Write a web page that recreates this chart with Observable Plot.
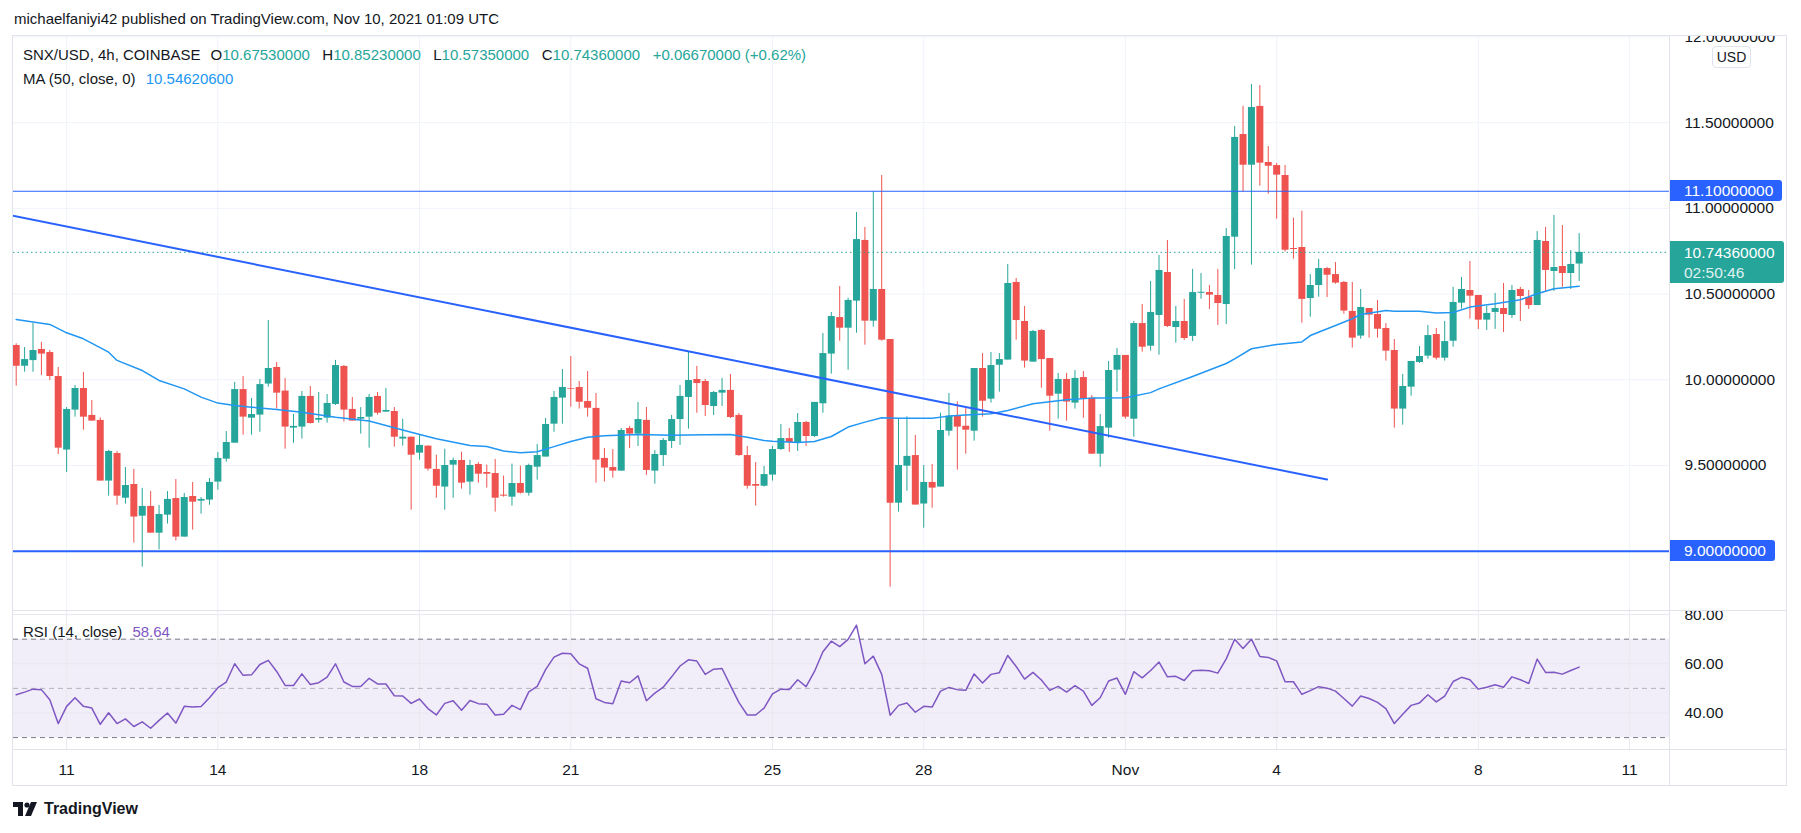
<!DOCTYPE html>
<html><head><meta charset="utf-8">
<script src="https://cdn.jsdelivr.net/npm/d3@7"></script>
<script src="https://cdn.jsdelivr.net/npm/@observablehq/plot@0.6"></script>
<style>
body{margin:0;background:#fff;font-family:"Liberation Sans",Arial,sans-serif;color:#131722;}
#root{position:relative;width:1801px;height:833px;overflow:hidden;background:#fff;}
.abs{position:absolute;white-space:nowrap;}
.line{position:absolute;background:#e0e3eb;}
.lbl{position:absolute;left:1670px;color:#fff;font-size:15.5px;padding:0 9px 0 14px;border-radius:0 3px 3px 0;display:flex;flex-direction:column;justify-content:center;}
.leg span.g{margin-left:12.5px;}
.leg span.g:first-child{margin-left:10px;}
</style></head><body><div id="root"></div>
<script>
// ---------- data ----------
const openP = [10.200,10.079,10.112,10.177,10.159,10.019,9.590,9.823,9.949,9.792,9.763,9.409,9.570,9.309,9.389,9.204,9.261,9.105,9.210,9.307,9.082,9.319,9.292,9.298,9.403,9.537,9.630,9.943,9.776,9.794,9.975,10.072,9.934,9.718,9.724,9.903,9.764,9.776,9.856,10.078,9.827,9.770,9.782,9.903,9.811,9.815,9.654,9.665,9.572,9.613,9.477,9.374,9.502,9.529,9.403,9.506,9.459,9.453,9.327,9.315,9.395,9.338,9.490,9.549,9.741,9.893,9.949,9.955,9.873,9.833,9.541,9.488,9.467,9.716,9.683,9.763,9.467,9.558,9.640,9.768,9.897,10.002,9.990,9.844,9.922,9.938,9.792,9.558,9.389,9.379,9.444,9.593,9.657,9.630,9.751,9.669,9.860,10.150,10.363,10.301,10.459,10.813,10.342,10.527,10.235,9.280,9.496,9.558,9.275,9.401,9.374,9.700,9.788,9.729,9.700,10.066,9.887,10.085,10.115,10.568,10.340,10.103,10.288,10.124,9.916,10.002,9.864,10.013,9.893,9.566,9.718,10.056,10.142,9.770,10.328,10.196,10.375,10.626,10.305,10.340,10.253,10.505,10.509,10.492,10.439,10.832,11.431,11.252,11.595,11.268,11.250,11.192,10.766,10.772,10.474,10.550,10.649,10.614,10.568,10.399,10.255,10.416,10.381,10.299,10.171,9.829,9.957,10.101,10.138,10.264,10.126,10.225,10.447,10.521,10.492,10.348,10.393,10.416,10.375,10.527,10.480,10.433,10.807,10.632,10.661,10.620,10.6753];
const highP = [10.210,10.188,10.328,10.218,10.171,10.072,9.838,9.967,10.043,9.879,9.778,9.588,9.582,9.488,9.477,9.366,9.348,9.267,9.348,9.418,9.337,9.401,9.313,9.424,9.576,9.698,9.984,10.019,9.891,10.002,10.346,10.101,10.008,9.798,9.932,9.961,9.926,9.914,10.113,10.083,9.897,9.838,9.914,9.926,9.949,9.838,9.770,9.665,9.677,9.613,9.560,9.595,9.543,9.578,9.531,9.517,9.502,9.535,9.438,9.508,9.496,9.508,9.623,9.774,9.932,10.060,10.136,9.990,10.048,9.920,9.599,9.593,9.716,9.728,9.868,9.838,9.587,9.657,9.792,9.967,10.159,10.078,10.002,9.932,10.008,10.031,9.803,9.611,9.517,9.494,9.611,9.739,9.716,9.803,9.757,9.868,10.270,10.393,10.544,10.476,10.976,10.889,11.097,11.192,10.235,9.770,9.784,9.675,9.500,9.506,9.805,9.920,9.871,9.840,10.066,10.153,10.159,10.153,10.673,10.591,10.428,10.288,10.293,10.124,10.037,10.037,10.054,10.048,9.908,9.797,10.107,10.183,10.142,10.340,10.439,10.574,10.725,10.813,10.428,10.469,10.644,10.620,10.550,10.644,10.883,11.478,11.596,11.723,11.717,11.361,11.262,11.250,10.943,10.984,10.614,10.702,10.655,10.684,10.574,10.568,10.527,10.416,10.463,10.328,10.235,10.031,10.107,10.194,10.317,10.299,10.340,10.539,10.597,10.690,10.492,10.428,10.504,10.562,10.550,10.539,10.521,10.865,10.889,10.959,10.900,10.754,10.8523];
const lowP = [9.963,10.044,10.044,10.025,9.996,9.564,9.459,9.782,9.706,9.759,9.409,9.321,9.268,9.274,9.047,8.907,9.105,9.008,9.158,9.059,9.082,9.123,9.216,9.268,9.356,9.519,9.630,9.677,9.677,9.694,9.957,9.829,9.595,9.630,9.654,9.741,9.747,9.747,9.850,9.753,9.759,9.683,9.601,9.794,9.811,9.607,9.613,9.239,9.531,9.467,9.309,9.239,9.309,9.362,9.327,9.397,9.368,9.228,9.315,9.263,9.333,9.321,9.414,9.549,9.694,9.741,9.840,9.829,9.782,9.397,9.403,9.426,9.467,9.599,9.611,9.442,9.391,9.494,9.599,9.617,9.712,9.805,9.786,9.792,9.844,9.774,9.553,9.362,9.263,9.374,9.409,9.587,9.576,9.582,9.611,9.663,9.805,10.033,10.225,10.056,10.272,10.202,10.307,10.225,8.790,9.228,9.350,9.269,9.134,9.251,9.374,9.671,9.473,9.566,9.642,9.782,9.864,9.928,10.115,10.231,10.068,10.103,9.951,9.700,9.770,9.759,9.829,9.776,9.566,9.490,9.659,9.928,9.770,9.665,10.161,10.167,10.144,10.305,10.214,10.229,10.223,10.470,10.410,10.317,10.323,10.643,11.095,10.669,11.130,11.083,10.937,10.745,10.704,10.330,10.365,10.482,10.480,10.558,10.383,10.185,10.237,10.243,10.243,10.109,9.718,9.735,9.904,10.095,10.120,10.115,10.109,10.190,10.412,10.354,10.294,10.288,10.294,10.276,10.358,10.340,10.410,10.433,10.509,10.515,10.540,10.527,10.5735];
const closeP = [10.079,10.118,10.171,10.150,10.019,9.601,9.827,9.949,9.782,9.759,9.409,9.582,9.321,9.383,9.199,9.261,9.105,9.214,9.302,9.082,9.313,9.286,9.302,9.401,9.541,9.634,9.943,9.782,9.797,9.972,10.066,9.922,9.724,9.728,9.903,9.745,9.774,9.862,10.083,9.823,9.759,9.780,9.897,9.805,9.821,9.665,9.665,9.560,9.617,9.479,9.379,9.500,9.529,9.397,9.500,9.449,9.449,9.309,9.321,9.395,9.338,9.500,9.558,9.739,9.897,9.955,9.945,9.869,9.834,9.531,9.485,9.467,9.704,9.683,9.768,9.471,9.564,9.646,9.768,9.903,9.996,9.978,9.850,9.926,9.938,9.780,9.558,9.379,9.379,9.447,9.593,9.657,9.634,9.751,9.669,9.868,10.153,10.369,10.301,10.463,10.818,10.342,10.527,10.231,9.280,9.500,9.553,9.269,9.401,9.368,9.704,9.788,9.724,9.706,10.066,9.875,10.083,10.118,10.562,10.346,10.109,10.282,10.118,9.904,10.002,9.870,10.008,9.887,9.566,9.727,10.054,10.142,9.782,10.328,10.190,10.393,10.638,10.311,10.340,10.241,10.509,10.511,10.494,10.445,10.836,11.414,11.252,11.589,11.264,11.246,11.194,10.756,10.760,10.469,10.550,10.649,10.610,10.564,10.401,10.243,10.422,10.377,10.295,10.167,9.829,9.961,10.107,10.136,10.258,10.126,10.223,10.451,10.527,10.488,10.348,10.387,10.416,10.381,10.521,10.486,10.433,10.813,10.638,10.655,10.620,10.673,10.7436];
// MA(50, close) at these candle indices
const maIdx = [0,4,6,8,11,12,15,17,20,22,24,26,28,31,34,38,42,44,47,50,54,56,58,60,62,64,66,68,70,74,78,82,85,87,89,90,93,95,97,99,101,103,105,109,111,113,116,118,121,125,128,132,135,136,140,144,145,147,150,153,154,157,159,160,163,164,167,169,171,173,176,179,181,183,186];
const maVal = [10.352,10.323,10.274,10.239,10.161,10.113,10.054,9.996,9.947,9.899,9.864,9.850,9.840,9.827,9.811,9.782,9.759,9.733,9.694,9.656,9.617,9.611,9.584,9.574,9.580,9.610,9.640,9.665,9.673,9.681,9.677,9.679,9.681,9.665,9.646,9.642,9.634,9.640,9.669,9.724,9.753,9.778,9.776,9.776,9.788,9.794,9.802,9.821,9.860,9.883,9.893,9.895,9.925,9.947,10.019,10.095,10.122,10.181,10.206,10.221,10.258,10.317,10.356,10.381,10.404,10.400,10.400,10.389,10.393,10.424,10.443,10.467,10.502,10.531,10.546];
// RSI(14, close), one value per candle
const rsiVal = [47.4,48.5,49.7,49.5,45.4,35.7,42.7,46.2,42.7,42.0,35.4,40.1,35.7,37.6,34.5,36.4,33.8,37.0,40.0,35.9,42.7,42.4,42.6,46.2,50.3,52.6,60.0,55.3,55.5,59.7,61.4,56.9,51.2,51.2,55.9,51.6,52.3,54.6,60.0,52.6,50.8,50.8,54.1,51.8,51.8,47.0,46.9,43.9,45.7,41.8,39.2,43.9,45.0,41.1,45.1,43.8,43.6,39.2,39.5,43.1,41.4,48.6,50.8,57.6,62.7,64.3,64.1,60.0,58.2,45.8,44.3,43.8,53.0,52.3,55.1,45.0,48.1,50.5,54.7,59.1,61.6,61.1,55.7,57.8,58.1,51.1,44.3,39.2,39.2,42.0,47.8,49.7,49.6,53.5,50.7,56.9,64.9,69.2,67.0,69.9,75.7,60.0,63.1,55.7,39.1,43.1,44.1,40.3,42.7,42.4,48.9,50.4,49.5,49.2,55.9,52.2,55.7,56.4,63.4,58.9,53.8,56.5,53.4,49.2,50.8,48.5,51.1,48.9,43.1,46.2,53.0,54.2,47.6,56.8,54.3,57.3,60.7,54.7,54.9,53.2,57.2,57.4,57.2,56.2,62.0,70.0,66.2,70.0,63.0,62.6,61.2,52.7,52.7,47.6,49.1,50.7,50.1,48.9,45.9,42.8,46.9,45.9,44.3,41.8,35.7,39.5,43.1,44.1,47.4,44.5,46.9,52.8,54.5,53.5,49.7,50.5,51.5,50.5,54.7,53.5,52.0,61.9,56.5,56.6,55.8,57.3,58.64];
// drawings
const trendIdx = [-1, 156];
const trendVal = [10.963, 9.418];
const hLevels = [11.1, 9.0];
const lastPrice = 10.7436;
const priceTicks = [9.5, 10, 10.5, 11, 11.5, 12];
const rsiTicks = [40, 60, 80];
const tickDates = ["2021-10-11","2021-10-14","2021-10-18","2021-10-21","2021-10-25","2021-10-28","2021-11-01","2021-11-04","2021-11-08","2021-11-11"];
const tickLabels = ["11","14","18","21","25","28","Nov","4","8","11"];

// ---------- build ----------
const GREEN = "#26a69a", RED = "#ef5350", BLUE = "#2962ff", MA = "#2196f3", PURPLE = "#7e57c2";
const H4 = 4 * 3600 * 1000, T0 = Date.UTC(2021, 9, 10);
const T = i => new Date(T0 + i * H4);
const W = 1801, XL = 13, XR = 1669;
const xDomain = [new Date(T0 - 1.285 * 3600e3), new Date(Date.UTC(2021, 10, 11, 19, 0))];
const ticks = tickDates.map(d => new Date(d + "T00:00:00Z"));
const tickMap = new Map(ticks.map((d, i) => [+d, tickLabels[i]]));
const candles = openP.map((o, i) => ({t: T(i), o, h: highP[i], l: lowP[i], c: closeP[i], col: closeP[i] >= o ? GREEN : RED}));
const maData = maIdx.map((k, j) => ({t: T(k), v: maVal[j]}));
const trend = trendIdx.map((k, j) => ({t: T(k), v: trendVal[j]}));
const rsiData = rsiVal.map((v, i) => ({t: T(i), v}));
const FONT = '"Liberation Sans", Arial, sans-serif';
const root = document.getElementById("root");

const MAIN_TOP = 36, MAIN_H = 575;
const main = Plot.plot({
  width: W, height: MAIN_H, marginLeft: XL, marginRight: W - XR, marginTop: 0, marginBottom: 0,
  x: {type: "utc", domain: xDomain, axis: null, label: null},
  y: {domain: [8.648, 12.003], axis: null, label: null},
  style: {background: "transparent", overflow: "hidden", fontFamily: FONT, fontSize: "15.5px", color: "#131722"},
  marks: [
    Plot.ruleX(ticks, {stroke: "#f0f3fa"}),
    Plot.ruleY(priceTicks, {stroke: "#f0f3fa"}),
    Plot.ruleX(candles, {x: "t", y1: "l", y2: "h", stroke: "col", strokeWidth: 1}),
    Plot.ruleX(candles, {x: "t", y1: "o", y2: "c", stroke: "col", strokeWidth: 7}),
    Plot.line(maData, {x: "t", y: "v", stroke: MA, strokeWidth: 1.5}),
    Plot.ruleY([lastPrice], {stroke: GREEN, strokeDasharray: "1.5 3", strokeWidth: 1}),
    Plot.ruleY([hLevels[0]], {stroke: BLUE, strokeWidth: 1}),
    Plot.ruleY([hLevels[1]], {stroke: BLUE, strokeWidth: 2}),
    Plot.line(trend, {x: "t", y: "v", stroke: BLUE, strokeWidth: 2, clip: true}),
    Plot.axisY(priceTicks, {anchor: "right", tickSize: 0, tickPadding: 15, tickFormat: d3.format(".8f"), fill: "#131722", label: null})
  ]
});
main.style.position = "absolute"; main.style.left = "0px"; main.style.top = MAIN_TOP + "px";
root.appendChild(main);

const RSI_TOP = 611, RSI_H = 174, RSI_MB = 35.7;
const rsi = Plot.plot({
  width: W, height: RSI_H, marginLeft: XL, marginRight: W - XR, marginTop: 0, marginBottom: RSI_MB,
  x: {type: "utc", domain: xDomain, label: null},
  y: {domain: [25.04, 81.26], axis: null, label: null},
  style: {background: "transparent", overflow: "visible", fontFamily: FONT, fontSize: "15.5px", color: "#131722"},
  marks: [
    Plot.rect([0], {x1: () => xDomain[0], x2: () => xDomain[1], y1: () => 30, y2: () => 70, fill: PURPLE, fillOpacity: 0.1}),
    Plot.ruleX(ticks, {stroke: "#ebe9f0"}),
    Plot.ruleY(rsiTicks, {stroke: "#e9e6f0"}),
    Plot.ruleY([70, 30], {stroke: "#787b86", strokeDasharray: "5 4"}),
    Plot.ruleY([50], {stroke: "#787b86", strokeOpacity: 0.5, strokeDasharray: "5 4"}),
    Plot.line(rsiData, {x: "t", y: "v", stroke: PURPLE, strokeWidth: 1.5}),
    Plot.axisY(rsiTicks, {anchor: "right", tickSize: 0, tickPadding: 15, tickFormat: d3.format(".2f"), fill: "#131722", label: null}),
    Plot.axisX(ticks, {anchor: "bottom", tickSize: 0, tickPadding: 14, tickFormat: d => tickMap.get(+d), fill: "#131722", label: null})
  ]
});
rsi.style.position = "absolute"; rsi.style.left = "0px"; rsi.style.top = RSI_TOP + "px";
root.appendChild(rsi);

// frame lines (chart chrome)
function hline(x, y, w, c) { const d = document.createElement("div"); d.className = "line"; Object.assign(d.style, {left: x + "px", top: y + "px", width: w + "px", height: "1px"}); if (c) d.style.background = c; root.appendChild(d); }
function vline(x, y, h) { const d = document.createElement("div"); d.className = "line"; Object.assign(d.style, {left: x + "px", top: y + "px", width: "1px", height: h + "px"}); root.appendChild(d); }
hline(12, 35, 1775); hline(12, 610, 1775); hline(12, 749, 1775); hline(12, 785, 1775);
vline(12, 35, 751); vline(XR, 35, 751); vline(1786, 35, 751);

function div(html, style) { const d = document.createElement("div"); d.className = "abs"; d.innerHTML = html; Object.assign(d.style, style); root.appendChild(d); return d; }

// header
div("michaelfaniyi42 published on TradingView.com, Nov 10, 2021 01:09 UTC", {left: "14px", top: "10px", fontSize: "15px"});
// legends
const g = (lab, s) => `<span class="g">${lab}<span style="color:${GREEN}">${s}</span></span>`;
div(`SNX/USD, 4h, COINBASE${g("O", "10.67530000")}${g("H", "10.85230000")}${g("L", "10.57350000")}${g("C", "10.74360000")}${g("", "+0.06670000 (+0.62%)")}`, {left: "23px", top: "46px", fontSize: "15px"}).classList.add("leg");
div(`MA (50, close, 0) <span style="color:${MA};margin-left:6px">10.54620600</span>`, {left: "23px", top: "70px", fontSize: "15px"});
div(`RSI (14, close) <span style="color:${PURPLE};margin-left:6px">58.64</span>`, {left: "23px", top: "623px", fontSize: "15px"});

// USD badge
div("USD", {left: "1712px", top: "46px", width: "37px", height: "20px", lineHeight: "20px", textAlign: "center", fontSize: "14px", border: "1px solid #e0e3eb", borderRadius: "4px", background: "#fff"});

// price-axis labels for drawings / last price
const ys = main.scale("y");
function badge(v, bg, lines, h) {
  const cy = MAIN_TOP + ys.apply(v);
  const d = document.createElement("div"); d.className = "lbl";
  d.style.background = bg; d.style.top = (cy - 10.5) + "px"; d.style.height = h + "px";
  d.innerHTML = lines.map((s, i) => `<div style="line-height:${i ? 19 : 21}px;${i ? "opacity:0.85" : ""}">${s}</div>`).join("");
  root.appendChild(d);
}
badge(hLevels[0], BLUE, [d3.format(".8f")(hLevels[0])], 21);
badge(hLevels[1], BLUE, [d3.format(".8f")(hLevels[1])], 21);
badge(lastPrice, GREEN, [d3.format(".8f")(lastPrice), "02:50:46"], 42);

// TradingView logo
div(`<svg width="26" height="16" viewBox="0 0 26 16" style="vertical-align:-2px"><path d="M0 1h10v14H5V6H0z" fill="#131722"/><circle cx="14" cy="4" r="2.6" fill="#131722"/><path d="M18 1h6l-6 14h-6z" fill="#131722"/></svg><span style="font-weight:bold;font-size:16px;margin-left:5px;vertical-align:1px">TradingView</span>`, {left: "13px", top: "800px"});
</script>
</body></html>
